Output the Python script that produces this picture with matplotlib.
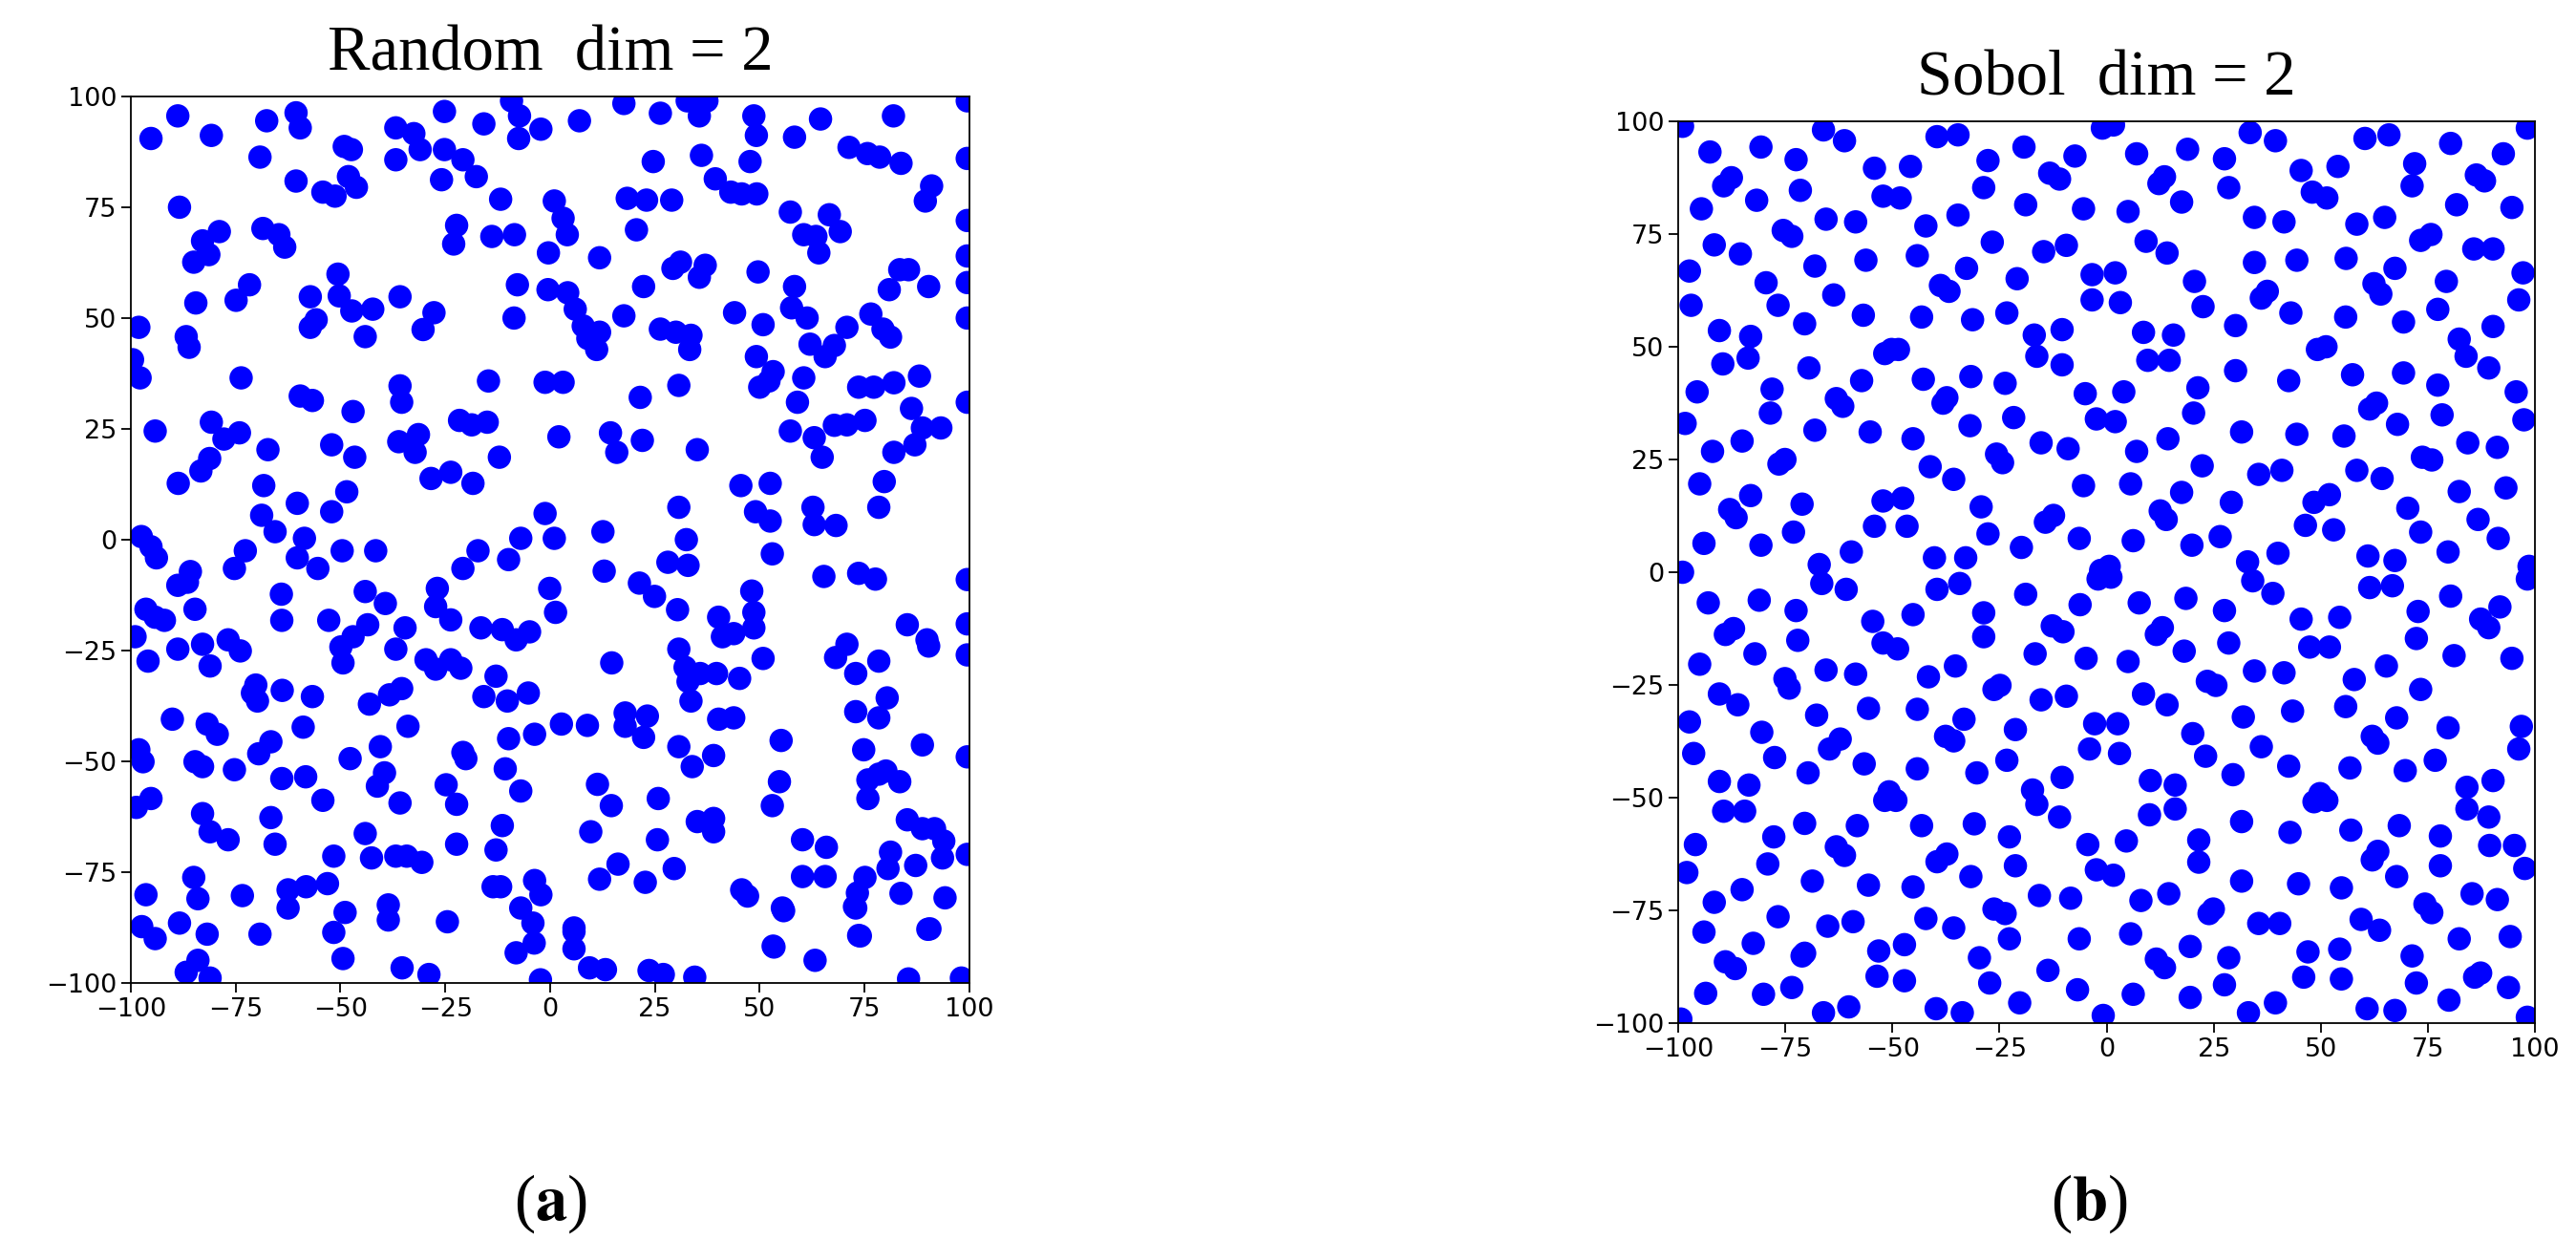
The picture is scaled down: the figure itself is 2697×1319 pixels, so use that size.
import matplotlib
matplotlib.use("Agg")
import matplotlib.pyplot as plt
import numpy as np

random_pts = [
(-88.8,95.6),(-95.2,90.5),(-80.8,91.2),(-67.6,94.5),(-60.6,96.3),(-59.6,92.9),(-69.2,86.3),(-60.6,80.9),(-88.4,75),
(-36.8,92.9),(-36.8,85.7),(-32.5,91.6),(-31,88),(-25.2,96.6),(-25.2,88),(-20.8,85.7),(-25.9,81.2),(-17.6,81.9),(-15.8,93.8),
(-9.2,99),(-7.3,95.6),(-7.5,90.5),(-2.2,92.6),(7,94.5),(17.6,98.4),(26.3,96.2),(32.7,99),(35.6,95.6),(37.4,99),(36.1,86.7),
(39.4,81.4),(24.6,85.3),(48.6,95.6),(49.2,91.2),(47.7,85.3),(58.3,90.8),(64.5,94.9),(71.3,88.5),(75.7,87.1),(78.6,86.3),
(83.7,84.9),(81.9,95.6),(-54.2,78.4),(-51.3,77.5),(-48.1,81.9),(-46.2,79.5),(-49.1,88.7),(-47.4,88),(-11.8,76.8),(1,76.4),
(3.1,72.5),(4.1,68.8),(-22.3,70.9),(-23,66.7),(-13.9,68.4),(-8.5,68.8),(18.4,77),(23,76.6),(29,76.6),(20.6,69.9),(43.1,78.4),
(45.7,78),(49.3,78),(57.3,73.9),(60.5,68.8),(63.4,68.4),(64.1,64.7),(66.6,73.3),(69.2,69.5),(89.5,76.4),(91,79.8),
(-78.9,69.5),(-82.9,67.4),(-81.4,64.3),(-85,62.6),(-68.5,70.2),(-64.7,68.8),(-63.3,66),(-0.4,64.7),(11.8,63.6),(29.3,61.2),
(31.1,62.6),(35.6,59.2),(37,61.9),(49.6,60.4),(83.4,60.9),(85.5,60.9),(-84.5,53.4),(-74.9,54),(-71.7,57.5),(-98.1,47.9),
(-86.8,45.8),(-86.1,43.4),(-50.6,59.9),(-50.3,55),(-57.2,54.8),(-55.8,49.6),(-57.2,47.9),(-47.3,51.6),(-42.3,52),(-44.1,45.8),
(-35.8,54.8),(-27.7,51.2),(-30.3,47.4),(-7.8,57.5),(-8.6,50),(-0.5,56.4),(4.2,55.7),(6,52),(7.9,48.2),(11.8,46.8),(9,45.4),
(11.1,42.9),(17.6,50.5),(22.3,57.1),(26.3,47.5),(30,46.8),(33.6,46.1),(33.3,42.9),(44,51.2),(50.8,48.5),(49.2,41.3),(58.3,57.1),
(57.6,52.3),(61.3,50),(62,44.1),(65.6,41.3),(67.8,43.8),(70.8,47.9),(76.5,50.9),(79.4,47.5),(81.2,45.7),(80.9,56.4),(90.3,57.1),
(-99.6,40.6),(-97.8,36.5),(-73.7,36.5),(-94.2,24.5),(-88.7,12.7),(-83.3,15.5),(-81.2,18.3),(-80.8,26.5),(-77.8,22.7),(-74.1,24.1),
(-67.3,20.3),(-68.3,12.2),(-59.6,32.4),(-56.7,31.4),(-47,28.9),(-52.1,21.4),(-46.6,18.6),(-48.5,10.8),(-52.1,6.3),(-36.1,22.1),
(-32.2,19.7),(-35.8,34.7),(-35.4,31),(-31.4,23.7),(-28.4,13.8),(-23.7,15.2),(-21.6,26.9),(-18.7,25.9),(-15,26.5),(-14.7,35.8),
(-18.4,12.7),(-12.1,18.6),(-1.2,35.5),(3.1,35.5),(2.1,23.2),(14.4,24.1),(15.9,19.7),(21.5,32.1),(22,22.4),(30.7,34.8),(35.1,20.3),
(45.5,12.2),(50,34.4),(52.2,35.8),(53.2,37.9),(57.3,24.5),(59,31),(60.5,36.5),(63,23),(64.9,18.6),(67.8,25.8),(70.8,25.9),
(75.1,26.9),(73.6,34.4),(77.2,34.4),(82,35.4),(86.2,29.6),(87,21.4),(88.1,36.9),(88.8,25.2),(93.2,25.2),(82,19.7),(79.7,13.1),
(78.4,7.3),(-68.8,5.5),(-65.6,1.8),(-60.3,8.2),(-58.6,0.3),(-60.3,-4.1),(-55.4,-6.5),(-49.6,-2.5),(-41.6,-2.5),(-72.7,-2.5),
(-75.3,-6.5),(-97.5,0.7),(-95.2,-1.6),(-93.9,-4.1),(-88.8,-10.3),(-85.8,-7.2),(-86.5,-9.6),(-84.7,-15.7),(-20.8,-6.5),(-17.2,-2.5),
(-9.9,-4.5),(-7,0.3),(-1.2,5.9),(1,0.3),(12.6,1.8),(12.9,-7.1),(30.7,7.3),(32.5,0),(32.9,-5.8),(28.1,-5.1),(49,6.3),(52.5,4.2),
(53,-3.2),(52.5,12.7),(62.7,7.3),(63,3.4),(68.2,3.2),(65.3,-8.3),(73.6,-7.6),(77.6,-8.9),(-64.1,-12.3),(-64,-18.2),(-44.1,-11.7),
(-39.3,-14.4),(-43.5,-19.2),(-47,-21.9),(-49.9,-24.2),(-49.4,-27.8),(-52.8,-18.2),(-36.8,-24.7),(-34.6,-19.9),(-26.9,-11),
(-27.3,-15.1),(-23.7,-18.1),(-16.5,-19.9),(-11.4,-20.3),(-8.1,-22.6),(-4.9,-20.8),(-0.1,-11),(1.3,-16.4),(-29.6,-27.1),
(-27.3,-29.2),(-23.7,-27.1),(-21.3,-29),(-12.9,-30.8),(-96.4,-15.7),(-94.2,-17.5),(-92,-18.2),(-99,-21.9),(-88.8,-24.7),
(-95.9,-27.4),(-82.9,-23.6),(-81.1,-28.5),(-76.8,-22.6),(-73.9,-25.1),(21.3,-9.8),(24.9,-12.8),(30.4,-15.8),(40.2,-17.5),
(41.1,-21.9),(43.8,-21.2),(48.1,-11.6),(48.6,-16.4),(48.6,-19.9),(50.8,-26.8),(30.7,-24.7),(32.2,-28.8),(35.8,-30.2),(39.7,-30.2),
(45.2,-31.3),(32.9,-32),(33.6,-36.4),(14.7,-27.8),(68.1,-26.6),(70.8,-23.6),(72.9,-30.2),(78.4,-27.4),(85.2,-19.2),(89.9,-22.6),
(90.3,-24),(-70.2,-32.8),(-69.8,-36.4),(-71,-34.6),(-63.9,-34),(-56.7,-35.4),(-90.1,-40.5),(-81.8,-41.6),(-79.4,-43.9),
(-98.1,-47.4),(-97.1,-50.1),(-84.7,-50.1),(-82.9,-51.2),(-75.3,-51.9),(-69.5,-48.3),(-66.6,-45.6),(-58.9,-42.3),(-43.1,-37.1),
(-38.3,-35),(-35.4,-33.6),(-33.9,-42.1),(-47.7,-49.4),(-40.5,-46.7),(-39.5,-52.6),(-41.2,-55.6),(-35.8,-59.4),(-20.8,-48),
(-20.1,-49.4),(-15.8,-35.4),(-10.2,-36.4),(-9.9,-44.9),(-5.2,-34.6),(-3.7,-43.9),(-10.7,-51.7),(-7,-56.7),(2.7,-41.6),(8.9,-41.9),
(17.9,-39.1),(23.2,-39.8),(17.9,-42.1),(22.3,-44.6),(30.7,-46.7),(33.9,-51.2),(39,-48.7),(40.2,-40.5),(43.8,-40.2),(55.1,-45.3),
(72.9,-38.8),(74.8,-47.4),(78.4,-40.2),(80.4,-35.7),(88.8,-46.3),(78.4,-52.9),(80.1,-52.2),(75.8,-54.2),(75.8,-58.4),(83.4,-54.6),
(11.3,-55.2),(14.6,-60),(25.8,-58.4),(53,-60),(54.7,-54.6),(35.1,-63.6),(39,-62.9),(39,-65.9),(-98.7,-60.4),(-95.2,-58.4),
(-82.9,-61.8),(-81.1,-65.9),(-76.8,-67.7),(-66.6,-62.7),(-65.6,-68.7),(-64,-53.9),(-58.3,-53.5),(-54.2,-58.8),(-51.6,-71.4),
(-44.1,-66.3),(-42.6,-71.8),(-36.8,-71.4),(-34.2,-71.4),(-30.6,-72.8),(-24.8,-55.3),(-22.3,-59.7),(-22.3,-68.7),(-11.4,-64.5),
(-12.9,-70),(9.7,-65.9),(11.8,-76.6),(16.2,-73.2),(25.6,-67.7),(22.7,-77.3),(29.6,-74.2),(60.2,-67.7),(65.9,-69.4),(60.2,-76),
(65.6,-76),(81.2,-70.5),(80.6,-74.2),(75.1,-76.2),(73.3,-79.7),(72.9,-83.1),(87.2,-73.5),(85.2,-63.2),(88.8,-65.2),(91.7,-65.2),
(93.9,-68),(93.6,-71.8),(94.2,-80.8),(83.7,-79.8),(90.1,-87.9),(73.6,-89.3),(55.4,-83.1),(53.2,-91.7),(45.7,-79),(47.1,-80.4),
(-96.4,-80.1),(-85,-76.2),(-84,-81),(-73.4,-80.3),(-62.5,-79),(-62.5,-83.1),(-58.2,-78.3),(-53.1,-77.6),(-48.9,-84.1),
(-51.6,-88.6),(-38.6,-82.4),(-38.6,-85.8),(-24.5,-86.2),(-13.6,-78.3),(-11.8,-78.3),(-7,-83.1),(-4.1,-86.5),(-3.7,-76.9),
(-2.2,-80.1),(5.7,-87.6),(-97.4,-87.3),(-94.2,-90),(-88.4,-86.5),(-81.8,-89),(-69.2,-89),(-86.8,-97.6),(-81.1,-98.9),(-84,-94.9),
(-35.3,-96.6),(-28.9,-98.1),(-2.3,-99.3),(9.4,-96.6),(13.2,-97),(23.6,-97.2),(27,-98.1),(34.5,-98.7),(85.5,-99.1),(98.1,-98.9),
(-8.1,-93.2),(-3.8,-91),(5.7,-92.3),(5.7,-88.4),(-49.4,-94.5),(53.4,-91.9),(63.2,-94.9),(74,-89.4),(90.6,-87.8),(55.7,-83.7),
(72.6,-82.8),(99.5,86),(99.5,72),(99.5,64),(99.5,58),(99.5,50),(99.5,31),(99.5,-9),(99.5,-19),(99.5,-26),(99.5,-49),(99.5,-71),(99.5,99),
]

sobol_pts = [
(-99,98.9),(-92.6,93.2),(-80.7,94.3),(-72.5,91.5),(-66.1,98.1),(-61.2,95.7),(-54.2,89.6),(-45.8,90),(-39.6,96.6),(-34.7,97),
(-27.7,91.3),(-19.3,94.3),(-13.3,88.5),(-11,87.2),(-7.4,92.3),(-1,98.5),(1.6,99.2),(7,92.8),(12.2,86.2),(13.5,87.7),(18.9,93.8),
(27.5,91.7),(33.5,97.5),(39.4,95.7),(45.4,89.1),(48,84.3),(51.4,83),(54,90),(60.3,96.2),(65.9,97),(71.9,90.6),(71.3,85.7),
(80.3,95.1),(86.3,88.1),(88.2,86.8),(92.6,92.8),(98.2,98.5),(-94.6,80.6),(-89.4,85.7),(-87.6,87.5),(-81.7,82.5),(-71.5,84.7),
(-91.6,72.6),(-97.4,66.8),(-97,59.2),(-85.5,70.6),(-79.5,64.2),(-75.5,75.8),(-73.5,74.5),(-65.5,78.3),(-58.6,77.7),(-56.2,69.2),
(-63.7,61.5),(-68.1,67.9),(-76.7,59.2),(-70.5,55.1),(-52.2,83.4),(-48.2,83),(-42.2,76.8),(-44.2,70.2),(-34.7,79.2),(-32.7,67.4),
(-28.7,85.3),(-26.7,73.2),(-18.9,81.5),(-14.7,71.1),(-9.4,72.5),(-5.4,80.6),(-20.9,65.1),(-23.3,57.5),(-31.3,56),(-38.8,63.6),
(-36.8,62.3),(-43.2,56.6),(-56.8,57),(-3.4,66),(-3.4,60.4),(2,66.4),(3.2,59.8),(5,80),(9.2,73.4),(14.1,70.8),(17.5,82.1),
(20.5,64.5),(22.5,58.9),(28.5,85.3),(34.5,68.7),(34.5,78.7),(36.1,60.8),(37.5,62.3),(41.4,77.7),(44.4,69.2),(43,57.5),(30.1,54.7),
(58.4,77.2),(55.9,69.6),(55.8,56.6),(62.4,64),(64,61.7),(64.9,78.7),(67.3,67.4),(69.3,55.5),(73.3,73.6),(75.7,74.9),(77.3,58.3),
(79.3,64.5),(81.7,81.5),(90.2,71.7),(85.7,71.7),(94.6,80.9),(97.2,66.4),(96.2,60.4),(90.2,54.5),(-90.4,53.6),(-83.1,52.3),
(-89.6,46.2),(-83.7,47.5),(-95.6,40),(-78.1,40.6),(-78.5,35.3),(-98.4,33),(-92,26.8),(-85.1,29.1),(-76.5,24),(-75.1,25),
(-68.1,31.5),(-69.5,45.3),(-63.1,38.5),(-61.6,36.8),(-57.2,42.5),(-55.2,31.1),(-50.2,49.4),(-51.8,48.5),(-48.6,49.4),(-45.2,29.6),
(-42.8,42.8),(-41.2,23.4),(-38.2,37.5),(-37.3,38.7),(-35.7,20.6),(-31.9,32.5),(-31.7,43.4),(-23.7,41.9),(-21.7,34.3),(-25.7,26.2),
(-24.3,24.3),(-16.9,52.6),(-16.3,47.9),(-10.4,53.8),(-10.4,46),(-15.3,28.7),(-9,27.4),(-5.4,19.2),(-5,39.6),(-2.4,34),(2,33.4),
(4,40),(7,26.8),(5.6,19.6),(8.6,53.2),(9.6,47),(15.6,52.6),(14.6,47),(14.3,29.6),(21.3,40.9),(20.3,35.3),(22.3,23.6),(17.5,17.7),
(30.1,44.7),(31.5,31.1),(35.5,21.7),(40.9,22.6),(42.5,42.5),(44.4,30.6),(49.2,49.4),(51.2,50),(48.4,15.5),(52,17.2),(57.4,43.8),
(55.4,30.2),(58.4,22.6),(61.4,36.2),(63,37.5),(64.3,20.8),(67.9,32.8),(69.3,44.2),(70.3,14.2),(73.7,25.5),(75.9,24.9),(77.3,41.5),
(78.3,34.9),(82.3,51.7),(83.9,47.9),(89.2,45.3),(84.3,28.7),(91.2,27.7),(93.2,18.7),(95.6,40),(97.4,33.8),(82.3,17.9),(86.7,11.7),
(-95,19.6),(-94,6.4),(-99,0),(-88,13.9),(-86.5,12.1),(-83.1,17),(-80.7,6),(-73.1,8.9),(-71.1,15.1),(-67.1,1.7),(-66.5,-2.5),
(-59.6,4.5),(-60.8,-3.8),(-54.2,10.2),(-52.2,15.8),(-47.6,16.4),(-46.6,10.2),(-40.2,3.2),(-39.6,-3.8),(-34.3,-2.5),(-32.9,3.2),
(-29.3,14.5),(-27.7,8.5),(-19.9,5.5),(-18.9,-4.9),(-14.3,11.1),(-12.4,12.6),(-6.4,7.5),(-1.4,0.4),(0.6,1.3),(-2,-1.5),(1,-1.1),
(6.2,7),(12.5,13.6),(13.9,11.7),(19.9,6),(26.5,7.9),(29.1,15.5),(32.9,2.3),(34.1,-1.9),(40,4.2),(38.8,-4.7),(46.4,10.4),(53,9.4),
(61,3.6),(61.4,-3.4),(67.3,2.6),(66.7,-3),(73.3,8.9),(79.7,4.5),(80.3,-5.3),(91.4,7.5),(98.6,1.3),(98.2,-1.5),(-93,-6.8),
(-89,-13.8),(-87.1,-12.5),(-95,-20.4),(-82.1,-18.1),(-81.1,-6.2),(-72.5,-8.5),(-72.1,-15.1),(-90.4,-27),(-86.1,-29.4),(-75.1,-23.6),
(-74.1,-25.7),(-65.5,-21.7),(-58.6,-22.6),(-54.6,-10.9),(-52.2,-15.7),(-48.8,-17),(-45.2,-9.4),(-41.6,-23.2),(-35.3,-20.8),
(-28.7,-9),(-28.7,-14.3),(-26.3,-26),(-24.9,-25.1),(-16.7,-18.1),(-12.7,-11.9),(-10.2,-13.2),(-6.2,-7.2),(-4.8,-19.1),(7.6,-6.8),
(5,-19.8),(11.6,-13.8),(13,-12.3),(18.5,-5.8),(18.1,-17.5),(27.5,-8.5),(28.5,-15.7),(34.5,-21.9),(41.4,-22.3),(45.4,-10.4),
(47.4,-16.6),(52,-16.6),(54.4,-10),(57.8,-23.8),(65.3,-20.8),(72.3,-14.7),(72.7,-8.7),(73.3,-26),(81.1,-18.5),(87.3,-10.4),
(89.2,-12.3),(91.8,-7.7),(94.6,-19.1),(23.5,-24.2),(25.5,-25.1),(-97.4,-33.2),(-96.4,-40.2),(-80.5,-35.5),(-77.5,-41.1),
(-90.4,-46.4),(-89.4,-53),(-84.5,-53),(-83.5,-47.2),(-67.7,-31.7),(-69.7,-44.5),(-64.7,-39.2),(-62.2,-37),(-56.6,-42.5),
(-55.6,-30.2),(-44.2,-30.4),(-44.2,-43.6),(-37.6,-36.4),(-35.7,-37.4),(-33.3,-32.6),(-30.3,-44.5),(-21.3,-34.9),(-23.3,-41.7),
(-15.3,-28.3),(-9.4,-27.5),(-10.4,-45.5),(-17.3,-48.3),(-16.3,-51.5),(-50.8,-48.7),(-49.2,-50.6),(-51.8,-50.6),(-2.8,-33.6),
(2.6,-33.6),(3,-40.2),(-4,-39.2),(8.6,-27),(14.1,-29.4),(10.2,-46.2),(16,-47.2),(16,-52.5),(10,-53.8),(20.1,-35.8),(23.1,-40.8),
(29.5,-44.9),(31.9,-32.1),(36.1,-38.7),(42.5,-43),(43.4,-30.8),(48.4,-50.9),(49.8,-49.1),(51.4,-50.6),(56.8,-43.4),(55.8,-29.8),
(62,-36.4),(63.3,-37.9),(67.7,-32.3),(69.7,-44),(76.7,-41.7),(79.7,-34.5),(84.1,-47.7),(84.1,-52.5),(90.2,-46.2),(89.2,-54.3),
(96.8,-34.2),(96.2,-39.2),(-96,-60.4),(-98,-66.6),(-91.6,-73.2),(-94,-79.8),(-85.1,-70.4),(-79.1,-64.7),(-77.7,-58.7),
(-70.5,-55.7),(-76.7,-76.4),(-70.5,-84.5),(-63.1,-60.9),(-61.2,-62.8),(-65.1,-78.5),(-58.2,-56.2),(-55.6,-69.4),(-59.2,-77.5),
(-68.7,-68.5),(-43.2,-56.2),(-45.2,-69.8),(-42.2,-76.8),(-39.6,-64.2),(-37.3,-62.5),(-30.9,-55.8),(-31.7,-67.5),(-22.7,-58.7),
(-21.3,-65.1),(-15.7,-71.7),(-8.4,-72.3),(-11,-54.3),(-4.4,-60.4),(-2.4,-66),(1.6,-67.2),(4.6,-59.6),(8,-72.8),(14.5,-71.3),
(21.5,-59.4),(21.5,-64.3),(31.5,-55.3),(31.5,-68.5),(42.8,-57.7),(44.8,-69.1),(57,-57.2),(54.8,-70),(62,-63.8),(63.3,-61.9),
(68.3,-56.2),(67.7,-67.5),(74.3,-73.6),(75.9,-75.5),(77.9,-65.1),(77.9,-58.5),(85.3,-71.3),(89.4,-60.6),(91.2,-72.6),(95.2,-60.6),
(97.6,-65.7),(94.2,-80.8),(82.3,-81.3),(87.3,-88.9),(85.9,-89.8),(79.9,-94.9),(93.8,-92.1),(98.2,-98.7),(71.3,-85.1),(72.3,-91.1),
(59.4,-77),(63.7,-79.4),(60.8,-96.8),(67.3,-97.2),(47,-84.2),(54.4,-83.6),(46,-89.8),(54.8,-90.2),(35.5,-77.9),(40.4,-77.9),
(39.4,-95.5),(33.1,-97.7),(28.5,-85.5),(27.5,-91.5),(23.9,-75.7),(24.9,-74.7),(19.5,-83),(19.5,-94.3),(11.6,-85.8),(13.5,-87.7),
(5.6,-80.2),(6.2,-93.6),(-0.8,-98.3),(-6.4,-81.3),(-6.8,-92.6),(-13.7,-88.3),(-20.3,-95.5),(-22.7,-81.3),(-26.3,-74.7),
(-23.7,-75.7),(-27.3,-91.1),(-29.7,-85.5),(-33.7,-97.7),(-35.7,-78.9),(-39.8,-96.8),(-47.2,-82.6),(-47.2,-90.6),(-53.2,-84),
(-53.6,-89.6),(-60.2,-96.4),(-66.1,-97.7),(-73.5,-92.1),(-71.1,-85.1),(-80.1,-93.6),(-82.5,-82.3),(-89,-86.4),(-86.7,-87.9),
(-93.6,-93.4),(-99.4,-99.1),
]

titles = ["Random  dim = 2", "Sobol  dim = 2"]
panel_labels = ["a", "b"]
ticks = [-100, -75, -50, -25, 0, 25, 50, 75, 100]

fig = plt.figure(figsize=(26.97, 13.19), dpi=100)
rects = [[0.0508, 0.2199, 0.3255, 0.7036], [0.6515, 0.188, 0.3326, 0.7157]]
title_y = [0.957, 0.937]
label_x = [0.2136, 0.8110]

for i, pts in enumerate([random_pts, sobol_pts]):
    ax = fig.add_axes(rects[i])
    arr = np.array(pts)
    ax.scatter(arr[:, 0], arr[:, 1], s=310, c='#0000ff', edgecolors='none', clip_on=True)
    ax.set_xlim(-100, 100)
    ax.set_ylim(-100, 100)
    ax.set_xticks(ticks)
    ax.set_yticks(ticks)
    ax.tick_params(labelsize=19.5, length=7, width=1.3)
    for sp in ax.spines.values():
        sp.set_linewidth(1.3)
    fig.text(rects[i][0] + rects[i][2] / 2, title_y[i], titles[i], ha='center', va='center',
             fontsize=48, family='Liberation Serif')
    fig.text(label_x[i], 0.045, "(" + r"$\mathbf{" + panel_labels[i] + "}$" + ")", ha='center', va='center',
             fontsize=48, family='Liberation Serif', math_fontfamily='stix')

fig.savefig("out.png", dpi=100)
